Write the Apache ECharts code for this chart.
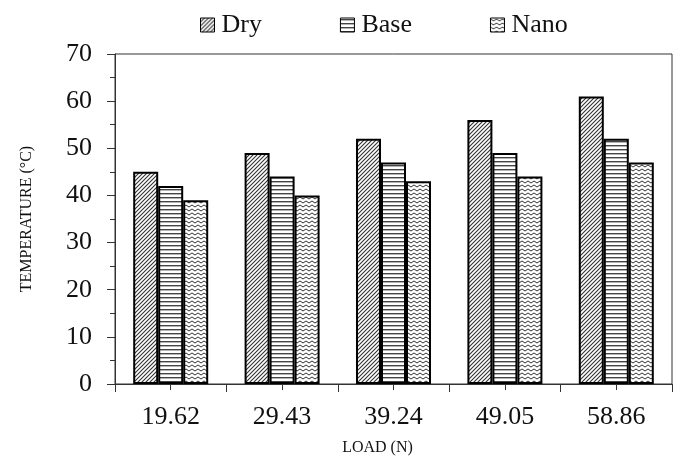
<!DOCTYPE html>
<html><head><meta charset="utf-8">
<script src="https://cdn.jsdelivr.net/npm/echarts@6/dist/echarts.min.js"></script>
<style>html,body{margin:0;padding:0;background:#fff}#c{width:680px;height:466px}</style>
</head><body><div id="c"></div>
<script>
const categories = ['19.62', '29.43', '39.24', '49.05', '58.86'];
const seriesNames = ['Dry', 'Base', 'Nano'];
const dryValues = [45, 49, 52, 56, 61];
const baseValues = [42, 44, 47, 49, 52];
const nanoValues = [39, 40, 43, 44, 47];
const yTicks = [0, 10, 20, 30, 40, 50, 60, 70];

function tile(w, h, draw) {
  const c = document.createElement('canvas');
  c.width = w; c.height = h;
  const g = c.getContext('2d');
  g.fillStyle = '#fff'; g.fillRect(0, 0, w, h);
  g.strokeStyle = '#333';
  draw(g);
  return { image: c, repeat: 'repeat' };
}
const dryPat = tile(4, 4, g => {
  g.lineWidth = 1.1;
  g.beginPath();
  g.moveTo(-1, 5); g.lineTo(5, -1);
  g.moveTo(-1, 1); g.lineTo(1, -1);
  g.moveTo(3, 5); g.lineTo(5, 3);
  g.stroke();
});
const basePat = tile(4, 4, g => {
  g.fillStyle = '#444';
  g.fillRect(0, 1, 4, 1.4);
});
const nanoPat = tile(6, 4, g => {
  g.lineWidth = 1;
  g.beginPath();
  g.moveTo(0, 1); g.lineTo(3, 3); g.lineTo(6, 1);
  g.stroke();
});

const font = 'Liberation Serif';
const chart = echarts.init(document.getElementById('c'));
const mk = (name, data, pat) => ({
  name, type: 'bar', data, xAxisIndex: 0, barWidth: 25, barGap: '0%',
  itemStyle: { color: pat, borderColor: '#000', borderWidth: 2 }
});
chart.setOption({
  animation: false,
  backgroundColor: '#fff',
  legend: {
    data: seriesNames, left: 195, top: 7, itemWidth: 14, itemHeight: 14, itemGap: 78,
    icon: 'rect',
    itemStyle: { borderColor: '#000', borderWidth: 1 },
    textStyle: { fontFamily: font, fontSize: 26, color: '#111', padding: [0, 0, 0, 2] }
  },
  grid: { left: 115, right: 8, top: 54, bottom: 82, show: true, borderColor: '#333', borderWidth: 1 },
  xAxis: [{
    type: 'category', data: categories,
    name: 'LOAD (N)', nameLocation: 'middle', nameGap: 56,
    nameTextStyle: { fontFamily: font, fontSize: 16, color: '#111', padding: [0, 32, 0, 0] },
    axisLine: { lineStyle: { color: '#333', width: 1 } },
    axisTick: { show: true, length: 8, lineStyle: { color: '#333' } },
    axisLabel: { fontFamily: font, fontSize: 26, color: '#111', margin: 20 }
  }, {
    type: 'category', data: categories, position: 'bottom',
    axisLine: { show: false },
    axisTick: { show: true, alignWithLabel: true, length: 6, lineStyle: { color: '#333' } },
    axisLabel: { show: false }
  }],
  yAxis: {
    type: 'value', min: yTicks[0], max: yTicks[yTicks.length - 1], interval: 10,
    name: 'TEMPERATURE (°C)', nameLocation: 'middle', nameGap: 80,
    nameTextStyle: { fontFamily: font, fontSize: 16, color: '#111' },
    axisLine: { show: true, lineStyle: { color: '#333', width: 1 } },
    axisTick: { show: true, length: 8, lineStyle: { color: '#333' } },
    minorTick: { show: true, splitNumber: 2, length: 5, lineStyle: { color: '#333' } },
    splitLine: { show: false },
    axisLabel: { fontFamily: font, fontSize: 26, color: '#111', margin: 23 }
  },
  series: [mk('Dry', dryValues, dryPat), mk('Base', baseValues, basePat), mk('Nano', nanoValues, nanoPat)]
});
</script></body></html>
